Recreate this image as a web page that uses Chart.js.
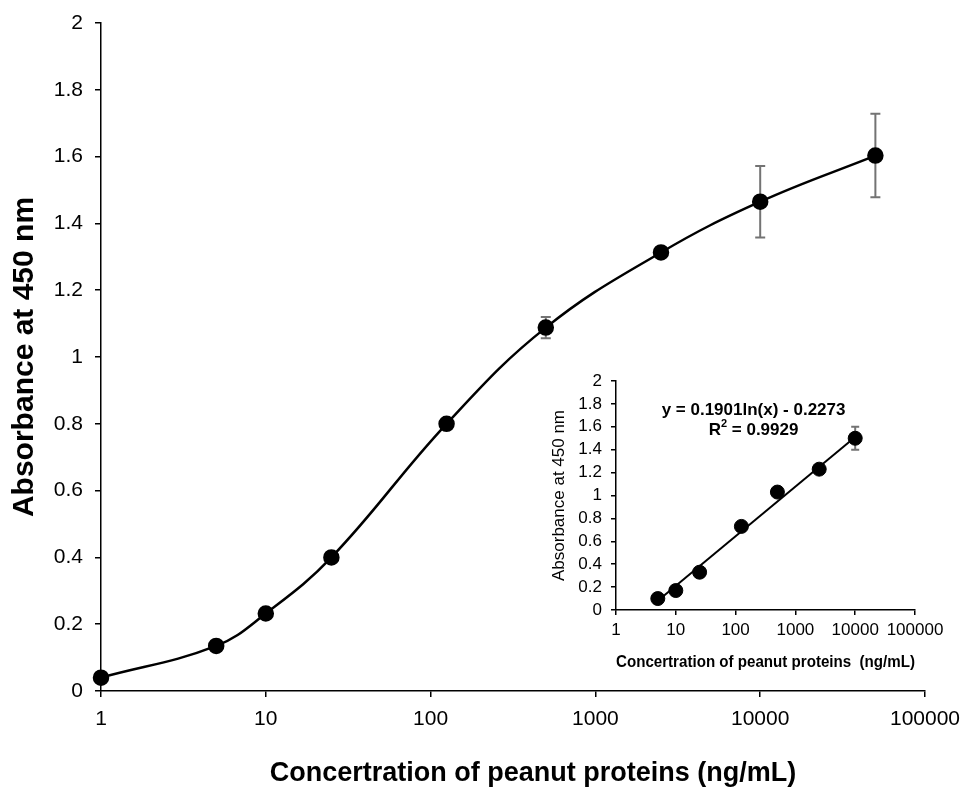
<!DOCTYPE html>
<html>
<head>
<meta charset="utf-8">
<script src="https://cdn.jsdelivr.net/npm/chart.js@4.4.1/dist/chart.umd.min.js"></script>
<style>
  html, body { margin: 0; padding: 0; background: #fff; }
  #wrap { position: relative; width: 961px; height: 788px; }
  #mainChart { position: absolute; left: 0; top: 0; }
  #insetChart { position: absolute; left: 540px; top: 365px; }
</style>
</head>
<body>
<div id="wrap">
  <canvas id="mainChart" width="961" height="788"></canvas>
  <canvas id="insetChart" width="415" height="320"></canvas>
</div>
<script>
// main curve: concentration (ng/mL) vs absorbance
const mainConc = [1, 5, 10, 25, 125, 500, 2500, 10000, 50000];
const mainAbs = [0.04, 0.135, 0.232, 0.40, 0.80, 1.088, 1.313, 1.465, 1.603];
const mainErr = [0, 0.015, 0.015, 0, 0, 0.032, 0, 0.107, 0.125];

// inset: linear range
const insetConc = [5, 10, 25, 125, 500, 2500, 10000];
const insetAbs = [0.10, 0.17, 0.33, 0.73, 1.03, 1.23, 1.50];
const insetErr = [0, 0, 0, 0, 0, 0, 0.10];
const trendConc = [5, 10000];
const trendAbs = [0.08, 1.51];

const xTickValues = [1, 10, 100, 1000, 10000, 100000];
const xTitle = 'Concertration of peanut proteins (ng/mL)';
const insetXTitle = 'Concertration of peanut proteins  (ng/mL)';
const yTitle = 'Absorbance at 450 nm';
const equationText = 'y = 0.1901ln(x) - 0.2273';
const rSquaredText = ' = 0.9929';

const FONT = "'Liberation Sans', Arial, sans-serif";

function toPoints(xs, ys) {
  return xs.map((x, i) => ({ x: x, y: ys[i] }));
}

// draws vertical error bars behind the markers
const errorBars = {
  id: 'errorBars',
  beforeDatasetsDraw(chart, args, opts) {
    const { ctx, scales } = chart;
    ctx.save();
    ctx.strokeStyle = '#737373';
    ctx.lineWidth = 2;
    opts.xs.forEach((x, i) => {
      const e = opts.errs[i];
      if (!e) return;
      const px = scales.x.getPixelForValue(x);
      const top = scales.y.getPixelForValue(opts.ys[i] + e);
      const bot = scales.y.getPixelForValue(opts.ys[i] - e);
      ctx.beginPath();
      ctx.moveTo(px, top); ctx.lineTo(px, bot);
      ctx.moveTo(px - opts.cap, top); ctx.lineTo(px + opts.cap, top);
      ctx.moveTo(px - opts.cap, bot); ctx.lineTo(px + opts.cap, bot);
      ctx.stroke();
    });
    ctx.restore();
  }
};

const whiteBg = {
  id: 'whiteBg',
  beforeDraw(chart) {
    const ctx = chart.ctx;
    ctx.save();
    ctx.fillStyle = '#fff';
    ctx.fillRect(0, 0, chart.width, chart.height);
    ctx.restore();
  }
};

// main x title, sits a little right of the plot centre like the original
const mainXCaption = {
  id: 'mainXCaption',
  afterDraw(chart) {
    const { ctx, chartArea } = chart;
    ctx.save();
    ctx.fillStyle = '#000';
    ctx.font = 'bold 27px ' + FONT;
    ctx.textAlign = 'center';
    ctx.textBaseline = 'middle';
    ctx.fillText(xTitle, (chartArea.left + chartArea.right) / 2 + 20, chart.height - 14);
    ctx.restore();
  }
};

const equation = {
  id: 'equation',
  afterDraw(chart) {
    const { ctx, chartArea } = chart;
    const cx = chartArea.left + chartArea.width * 0.46;
    ctx.save();
    ctx.fillStyle = '#000';
    ctx.font = 'bold 17px ' + FONT;
    ctx.textAlign = 'center';
    ctx.textBaseline = 'middle';
    ctx.fillText(equationText, cx, chartArea.top + 29);
    // R² line with superscript
    const wR = ctx.measureText('R').width;
    const wRest = ctx.measureText(rSquaredText).width;
    ctx.font = 'bold 11px ' + FONT;
    const wSup = ctx.measureText('2').width;
    const total = wR + wSup + wRest;
    const x0 = cx - total / 2;
    const y2 = chartArea.top + 49;
    ctx.textAlign = 'left';
    ctx.font = 'bold 17px ' + FONT;
    ctx.fillText('R', x0, y2);
    ctx.font = 'bold 11px ' + FONT;
    ctx.fillText('2', x0 + wR, y2 - 6);
    ctx.font = 'bold 17px ' + FONT;
    ctx.fillText(rSquaredText, x0 + wR + wSup, y2);
    ctx.restore();
  }
};

function logAxis(o) {
  return {
    type: 'logarithmic',
    min: 1,
    max: 100000,
    afterBuildTicks: s => { s.ticks = xTickValues.map(v => ({ value: v })); },
    afterFit: s => {
      s.height = o.height;
      s.paddingLeft = 0;
      s.paddingRight = 0;
    },
    ticks: {
      color: '#000',
      padding: o.pad,
      maxRotation: 0,
      autoSkip: false,
      font: { family: FONT, size: o.size },
      callback: v => String(v)
    },
    grid: { drawOnChartArea: false, drawTicks: true, tickLength: o.tick, color: '#000', lineWidth: 1.5 },
    border: { display: true, color: '#000', width: 1.5 },
    title: {
      display: !!o.title,
      text: o.title || '',
      color: '#000',
      font: { family: FONT, size: o.titleSize, weight: 'bold', lineHeight: 1 },
      padding: { top: 0, bottom: o.titlePad }
    }
  };
}

function absAxis(o) {
  return {
    type: 'linear',
    min: 0,
    max: 2,
    afterFit: s => {
      s.width = o.width;
      s.paddingTop = 0;
      s.paddingBottom = 0;
    },
    ticks: {
      stepSize: 0.2,
      autoSkip: false,
      color: '#000',
      padding: o.pad,
      font: { family: FONT, size: o.size },
      callback: v => String(+v.toFixed(1))
    },
    grid: { drawOnChartArea: false, drawTicks: true, tickLength: o.tick, color: '#000', lineWidth: 1.5 },
    border: { display: true, color: '#000', width: 1.5 },
    title: {
      display: true,
      text: yTitle,
      color: '#000',
      font: { family: FONT, size: o.titleSize, weight: o.titleWeight, lineHeight: 1 },
      padding: { top: o.titlePad, bottom: 0 }
    }
  };
}

new Chart(document.getElementById('mainChart'), {
  type: 'line',
  data: {
    datasets: [{
      data: toPoints(mainConc, mainAbs),
      borderColor: '#000',
      borderWidth: 2.5,
      tension: 0.4,
      pointRadius: 7,
      pointBackgroundColor: '#000',
      pointBorderColor: '#000',
      clip: false
    }]
  },
  options: {
    responsive: false,
    animation: false,
    layout: { padding: { top: 23, right: 36, left: 0, bottom: 0 } },
    plugins: {
      legend: { display: false },
      tooltip: { enabled: false },
      errorBars: { xs: mainConc, ys: mainAbs, errs: mainErr, cap: 5 }
    },
    scales: {
      x: logAxis({ height: 97, pad: 10, size: 21, tick: 6 }),
      y: absAxis({ width: 101, pad: 12, size: 21, tick: 6, titleSize: 30, titleWeight: 'bold', titlePad: 10 })
    }
  },
  plugins: [whiteBg, errorBars, mainXCaption]
});

new Chart(document.getElementById('insetChart'), {
  type: 'line',
  data: {
    datasets: [{
      data: toPoints(trendConc, trendAbs),
      borderColor: '#000',
      borderWidth: 2,
      pointRadius: 0,
      tension: 0
    }, {
      data: toPoints(insetConc, insetAbs),
      showLine: false,
      pointRadius: 7,
      pointBackgroundColor: '#000',
      pointBorderColor: '#000',
      clip: false
    }]
  },
  options: {
    responsive: false,
    animation: false,
    layout: { padding: { top: 16, right: 40, left: 0, bottom: 0 } },
    plugins: {
      legend: { display: false },
      tooltip: { enabled: false },
      errorBars: { xs: insetConc, ys: insetAbs, errs: insetErr, cap: 4 }
    },
    scales: {
      x: logAxis({ height: 75, pad: 5, size: 17, tick: 5, title: insetXTitle, titleSize: 16, titlePad: 14 }),
      y: absAxis({ width: 76, pad: 9, size: 17, tick: 5, titleSize: 17, titleWeight: 'normal', titlePad: 11 })
    }
  },
  plugins: [errorBars, equation]
});
</script>
</body>
</html>
